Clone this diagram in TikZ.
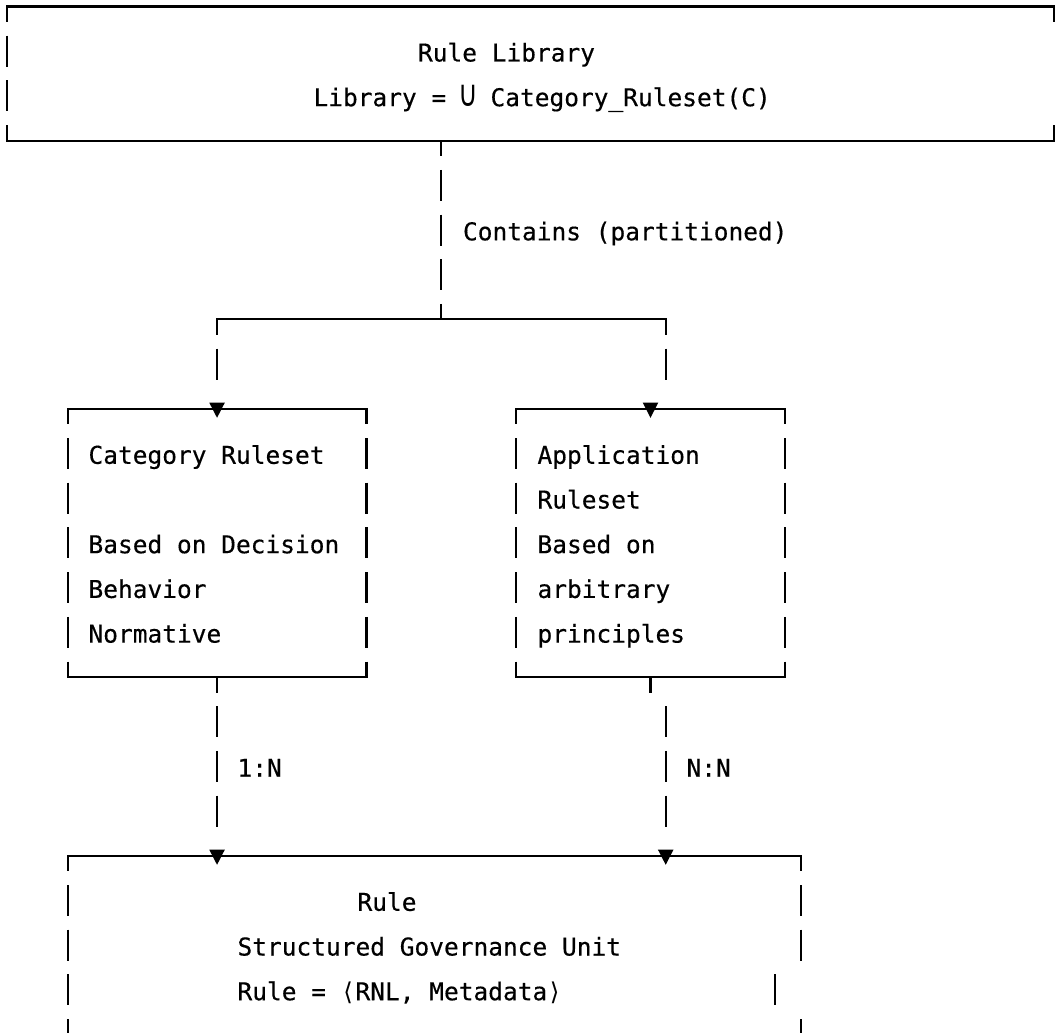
\documentclass[tikz,border=0pt]{standalone}
\usepackage{fontspec}
\newfontfamily\mono[FakeBold=0.35]{DejaVu Sans Mono}
\newfontfamily\symf{DejaVu Sans}
\newcommand\cellsym[1]{\makebox[14.75pt][c]{\symf #1}}
\newcommand\tallunion{\makebox[14.75pt][c]{\scalebox{1.1}[1.5]{\symf ∪}}}
\tikzset{
  hline/.style={line width=2.1pt, line cap=rect},
  vline/.style={line width=2.1pt, dash pattern=on 31pt off 13.7pt, dash phase=15.5pt},
  vlinefull/.style={line width=2.1pt, dash pattern=on 31pt off 13.7pt, dash phase=0pt},
  stub/.style={line width=2.1pt},
  area/.style={draw=none, inner sep=0pt, outer sep=0pt, rectangle},
  txt/.style={anchor=base west, inner sep=0pt, outer sep=0pt, font=\mono\fontsize{24.5}{30}\selectfont},
  pics/downtri/.style={code={\fill (-7.8,-6.2) -- (7.8,-6.2) -- (0,9) -- cycle;}}
}
\begin{document}
\begin{tikzpicture}[x=1pt,y=-1pt]
\useasboundingbox (0,0) rectangle (1060,1033);
\fill[white] (0,0) rectangle (1060,1033);
\clip (0,0) rectangle (1060,1033);

% box areas
\node[area, minimum width=1046.7pt, minimum height=134.1pt] (lib) at (530.65,73.55) {};
\node[area, minimum width=298.9pt, minimum height=268.2pt] (cat) at (217.05,542.9) {};
\node[area, minimum width=269pt, minimum height=268.2pt] (app) at (650.5,542.9) {};
\node[area, minimum width=733.1pt, minimum height=223.5pt] (rule) at (434.15,967.55) {};

% helper coordinates
\coordinate (j) at (441.3,319.4);
\coordinate (bl) at (216.7,319.4);
\coordinate (br) at (665.7,319.4);
\coordinate (k) at (665.7,706.2);
\coordinate (m) at (775,974.4);
\coordinate (n) at (800.7,1019.1);

% Rule Library box
\draw[hline] (lib.north west) -- (lib.north east);
\draw[hline] (lib.south west) -- (lib.south east);
\draw[vline] (lib.north west) -- (lib.south west);
\draw[stub] (lib.north east) -- ++(0,15.5);
\draw[stub] (lib.south east) -- ++(0,-15.5);

% Category box
\draw[hline] (cat.north west) -- (cat.north east);
\draw[hline] (cat.south west) -- (cat.south east);
\draw[vline] (cat.north west) -- (cat.south west);
\draw[vline] (cat.north east) -- (cat.south east);

% Application box
\draw[hline] (app.north west) -- (app.north east);
\draw[hline] (app.south west) -- (app.south east);
\draw[vline] (app.north west) -- (app.south west);
\draw[vline] (app.north east) -- (app.south east);

% Rule box
\draw[hline] (rule.north west) -- (rule.north east);
\draw[vline] (rule.north west) -- (rule.south west);
\draw[vline] (rule.north east) -- ++(0,104.9);
\draw[stub] (m) -- ++(0,31);
\draw[stub] (n) -- ++(0,40);

% connectors
\draw[vline] (lib.south -| j) -- (j);
\draw[hline] (bl) -- (br);
\draw[vline] (bl) -- ++(0,60.2);
\draw[vline] (br) -- ++(0,60.2);
\pic at (cat.north) {downtri};
\pic at (app.north) {downtri};
\draw[vline] (cat.south) -- ++(0,149.6);
\pic at (rule.north -| cat.south) {downtri};
\draw[stub] (app.south) -- ++(0,15.5);
\draw[vlinefull] (k) -- ++(0,120.4);
\pic at (rule.north -| k) {downtri};

% texts
\node[txt] (t1) at (418,61.5) {Rule Library};
\node[txt] (t2) at (313.5,106.2) {Library = \tallunion{} Category\_Ruleset(C)};
\node[txt] (t3) at (463,240.3) {Contains (partitioned)};

\node[txt] (c1) at (88.5,463.8) {Category Ruleset};
\node[txt] (c2) at (88.5,553.2) {Based on Decision};
\node[txt] (c3) at (88.5,597.9) {Behavior};
\node[txt] (c4) at (88.5,642.6) {Normative};

\node[txt] (a1) at (537.5,463.8) {Application};
\node[txt] (a2) at (537.5,508.5) {Ruleset};
\node[txt] (a3) at (537.5,553.2) {Based on};
\node[txt] (a4) at (537.5,597.9) {arbitrary};
\node[txt] (a5) at (537.5,642.6) {principles};

\node[txt] (l1) at (237.5,776.7) {1:N};
\node[txt] (l2) at (686.5,776.7) {N:N};

\node[txt] (r1) at (357.5,910.8) {Rule};
\node[txt] (r2) at (237.5,955.5) {Structured Governance Unit};
\node[txt] (r3) at (237.5,1000.2) {Rule = \cellsym{⟨}RNL, Metadata\cellsym{⟩}};
\end{tikzpicture}
\end{document}
